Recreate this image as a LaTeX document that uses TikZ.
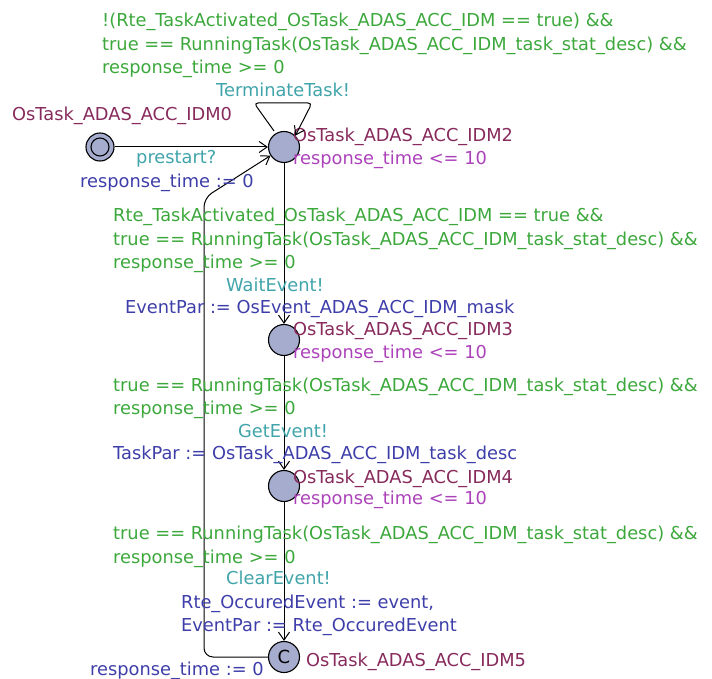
\documentclass[tikz,border=0pt]{standalone}
\usepackage{fontspec}
\setmainfont{DejaVu Sans}
\usetikzlibrary{arrows.meta}
\definecolor{guardc}{RGB}{60,168,60}
\definecolor{syncc}{RGB}{64,164,170}
\definecolor{assignc}{RGB}{62,62,170}
\definecolor{namec}{RGB}{135,42,92}
\definecolor{invc}{RGB}{172,66,186}
\definecolor{locfill}{RGB}{165,172,205}
\tikzset{
  loc/.style={circle,draw,line width=1.1pt,fill=locfill,minimum size=31pt,inner sep=0pt},
  txt/.style={anchor=base west,inner sep=0pt,font=\fontsize{17.8}{20}\selectfont},
  guard/.style={txt,text=guardc},
  sync/.style={txt,text=syncc},
  assign/.style={txt,text=assignc},
  lname/.style={txt,text=namec},
  inv/.style={txt,text=invc},
  edge/.style={draw,line width=1pt,-{Straight Barb[length=8pt,width=11pt,line width=1pt]}},
}
\begin{document}
\begin{tikzpicture}[x=1pt,y=-1pt]
\useasboundingbox (0,0) rectangle (712,679);
% locations
\node[loc,minimum size=28pt] (l0) at (100,147) {};
\draw[line width=1.1pt] (l0.center) circle (9);
\node[loc] (l2) at (284,147) {};
\node[loc] (l3) at (284,340) {};
\node[loc] (l4) at (284,486) {};
\node[loc] (l5) at (284,657) {\fontsize{18}{20}\selectfont C};
% names
\node[lname] (n0) at (12,121) {OsTask\_ADAS\_ACC\_IDM0};
\node[lname] (n2) at (293,142) {OsTask\_ADAS\_ACC\_IDM2};
\node[inv] (i2) at (293,165) {response\_time <= 10};
\node[lname] (n3) at (293,335) {OsTask\_ADAS\_ACC\_IDM3};
\node[inv] (i3) at (293,358) {response\_time <= 10};
\node[lname] (n4) at (293,483) {OsTask\_ADAS\_ACC\_IDM4};
\node[inv] (i4) at (293,504) {response\_time <= 10};
\node[lname] (n5) at (306,666) {OsTask\_ADAS\_ACC\_IDM5};
% edges
\coordinate (lpA) at (254,103);
\coordinate (lpB) at (312,103);
\draw[edge,rounded corners=4pt] ([shift={(-10,0)}]l2.north) -- (lpA) -- (lpB) -- (l2.north east);
\draw[edge] (l0) -- (l2);
\draw[edge] (l2) -- (l3);
\draw[edge] (l3) -- (l4);
\draw[edge] (l4) -- (l5);
\coordinate (bk1) at (204,657);
\coordinate (bk2) at (204,198);
\draw[edge,rounded corners=9pt] (l5.west) -- (bk1) -- (bk2) -- (l2);
% labels
\node[guard] (g1a) at (102,27) {!(Rte\_TaskActivated\_OsTask\_ADAS\_ACC\_IDM == true) \&\&};
\node[guard] (g1b) at (102,51) {true == RunningTask(OsTask\_ADAS\_ACC\_IDM\_task\_stat\_desc) \&\&};
\node[guard] (g1c) at (102,74) {response\_time >= 0};
\node[sync] (s1) at (216,97) {TerminateTask!};
\node[sync] (s0) at (136,164) {prestart?};
\node[assign] (a0) at (80,188) {response\_time := 0};
\node[guard] (g2a) at (113,222) {Rte\_TaskActivated\_OsTask\_ADAS\_ACC\_IDM == true \&\&};
\node[guard] (g2b) at (113,245) {true == RunningTask(OsTask\_ADAS\_ACC\_IDM\_task\_stat\_desc) \&\&};
\node[guard] (g2c) at (113,268) {response\_time >= 0};
\node[sync] (s2) at (226,291) {WaitEvent!};
\node[assign] (a2) at (125,313) {EventPar := OsEvent\_ADAS\_ACC\_IDM\_mask};
\node[guard] (g3a) at (113,391) {true == RunningTask(OsTask\_ADAS\_ACC\_IDM\_task\_stat\_desc) \&\&};
\node[guard] (g3b) at (113,414) {response\_time >= 0};
\node[sync] (s3) at (238,437) {GetEvent!};
\node[assign] (a3) at (113,459) {TaskPar := OsTask\_ADAS\_ACC\_IDM\_task\_desc};
\node[guard] (g4a) at (113,539) {true == RunningTask(OsTask\_ADAS\_ACC\_IDM\_task\_stat\_desc) \&\&};
\node[guard] (g4b) at (113,563) {response\_time >= 0};
\node[sync] (s4) at (226,584) {ClearEvent!};
\node[assign] (a4a) at (181,608) {Rte\_OccuredEvent := event,};
\node[assign] (a4b) at (181,631) {EventPar := Rte\_OccuredEvent};
\node[assign] (a5) at (90,675) {response\_time := 0};
\end{tikzpicture}
\end{document}
